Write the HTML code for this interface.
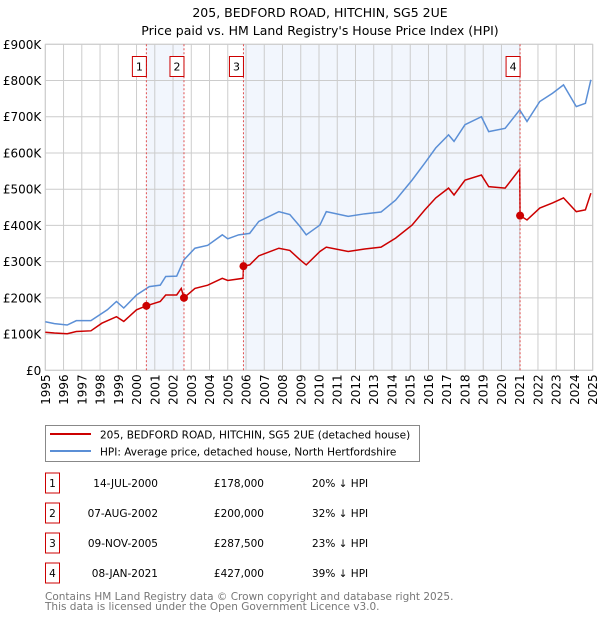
<!DOCTYPE html>
<html><head><meta charset="utf-8"><style>
body{margin:0;background:#fff;width:600px;height:620px;overflow:hidden;font-family:"DejaVu Sans","Liberation Sans",sans-serif}
svg text{font-family:"DejaVu Sans","Liberation Sans",sans-serif}
</style></head><body>
<svg id="chart" width="600" height="620" xmlns="http://www.w3.org/2000/svg">
<text x="320" y="17" text-anchor="middle" font-size="12.5">205, BEDFORD ROAD, HITCHIN, SG5 2UE</text>
<text x="320" y="35" text-anchor="middle" font-size="12.5">Price paid vs. HM Land Registry's House Price Index (HPI)</text>
<g id="shade"></g><g id="grid"></g><g id="axes"></g><g id="series"></g><g id="markers"></g>
<rect x="45.5" y="425.5" width="374" height="36" fill="#fff" stroke="#888"/>
<line x1="50" y1="434" x2="91" y2="434" stroke="#cc0000" stroke-width="2"/>
<text x="100" y="438.5" font-size="10.5">205, BEDFORD ROAD, HITCHIN, SG5 2UE (detached house)</text>
<line x1="50" y1="451" x2="91" y2="451" stroke="#5b8fd6" stroke-width="2"/>
<text x="100" y="455.5" font-size="10.5">HPI: Average price, detached house, North Hertfordshire</text>
<g id="table" font-size="10.5"></g>
<text x="45" y="600" font-size="10.5" fill="#777">Contains HM Land Registry data © Crown copyright and database right 2025.</text>
<text x="45" y="610" font-size="10.5" fill="#777">This data is licensed under the Open Government Licence v3.0.</text>
</svg>
<script>
const hpiYears=[1995,1995.5,1996.2,1996.7,1997.5,1998.4,1998.9,1999.3,2000,2000.7,2001.3,2001.6,2002.2,2002.6,2003.2,2003.9,2004.7,2005,2005.6,2006.2,2006.7,2007.8,2008.4,2008.96,2009.3,2010.05,2010.4,2011.6,2012.5,2013.4,2014.2,2015.1,2015.8,2016.4,2017.1,2017.4,2018.0,2018.9,2019.3,2020.2,2021.0,2021.4,2022.1,2022.8,2023.4,2024.1,2024.6,2024.9];
const hpiValues=[134,129,125,137,137,167,190,172,208,231,235,259,260,305,337,345,374,363,374,378,411,438,430,397,374,401,438,425,432,437,470,525,572,614,650,632,678,700,659,668,719,687,742,765,788,728,737,802];
const ppYears=[1995,1995.5,1996.2,1996.7,1997.5,1998.1,1998.9,1999.3,2000,2000.54,2001.3,2001.6,2002.2,2002.45,2002.6,2003.2,2003.9,2004.7,2005,2005.84,2005.86,2006.2,2006.7,2007.8,2008.4,2008.96,2009.3,2010.05,2010.4,2011.6,2012.5,2013.4,2014.2,2015.1,2015.8,2016.4,2017.1,2017.4,2018.0,2018.9,2019.3,2020.2,2021.0,2021.02,2021.4,2022.1,2022.8,2023.4,2024.1,2024.6,2024.9];
const ppValues=[105,103,101,107,109,130,148,135,167,178,190,208,208,226,200,226,235,254,248,254,287.5,291,316,337,331,305,291,328,340,328,335,340,365,401,443,476,503,484,525,539,507,503,555,427,415,448,462,476,438,443,489];
const saleLabels=["1","2","3","4"];
const saleYears=[2000.54,2002.6,2005.86,2021.02];
const saleValues=[178,200,287.5,427];
const saleDates=["14-JUL-2000","07-AUG-2002","09-NOV-2005","08-JAN-2021"];
const salePrices=["£178,000","£200,000","£287,500","£427,000"];
const salePct=["20% ↓ HPI","32% ↓ HPI","23% ↓ HPI","39% ↓ HPI"];
const yTicks=[0,100,200,300,400,500,600,700,800,900];
const yTickLabels=["£0","£100K","£200K","£300K","£400K","£500K","£600K","£700K","£800K","£900K"];
const xTicks=[1995,1996,1997,1998,1999,2000,2001,2002,2003,2004,2005,2006,2007,2008,2009,2010,2011,2012,2013,2014,2015,2016,2017,2018,2019,2020,2021,2022,2023,2024,2025];

const NS="http://www.w3.org/2000/svg";
const X0=45.3,X1=592.7,Y0=370.3,Y1=44.3;
const xs=y=>X0+(y-1995)/30*(X1-X0);
const ys=v=>Y0-(v/900)*(Y0-Y1);
function mk(tag,attrs,parent){const e=document.createElementNS(NS,tag);for(const k in attrs)e.setAttribute(k,attrs[k]);document.getElementById(parent).appendChild(e);return e;}

for(let i=0;i<2;i++){
  const a=saleYears[i*2],b=saleYears[i*2+1];
  const r=mk('rect',{x:xs(a),y:Y1,width:xs(b)-xs(a),height:Y0-Y1,fill:'#f2f6fd'},'shade');
  
  
}
xTicks.forEach(t=>{
  const l=mk('line',{x1:xs(t),x2:xs(t),y1:Y1,y2:Y0,stroke:'#ccc','stroke-width':1},'grid');
  
  
  const tx=mk('text',{x:0,y:0,'font-size':12,'text-anchor':'end',transform:`translate(${xs(t)+4.5},${Y0+4}) rotate(-90)`},'axes');
  tx.textContent=t;
  
  
});
yTicks.forEach((t,i)=>{
  const l=mk('line',{x1:X0,x2:X1,y1:ys(t),y2:ys(t),stroke:'#ccc','stroke-width':1},'grid');
  
  
  const tx=mk('text',{x:X0-4,y:ys(t)+4.5,'font-size':12,'text-anchor':'end'},'axes');
  tx.textContent=yTickLabels[i];
  
  
});
const hp=mk('polyline',{points:hpiYears.map((y,i)=>xs(y)+','+ys(hpiValues[i])).join(' '),fill:'none',stroke:'#5b8fd6','stroke-width':1.5},'series');


const pp=mk('polyline',{points:ppYears.map((y,i)=>xs(y)+','+ys(ppValues[i])).join(' '),fill:'none',stroke:'#cc0000','stroke-width':1.5},'series');


saleYears.forEach((y,i)=>{
  const l=mk('line',{x1:xs(y),x2:xs(y),y1:Y1,y2:Y0,stroke:'#e05050','stroke-width':1,'stroke-dasharray':'2,2'},'markers');
  
  
  const c=mk('circle',{cx:xs(y),cy:ys(saleValues[i]),r:4,fill:'#cc0000'},'markers');
  
  
  const b=mk('rect',{x:xs(y)-14,y:56.5,width:14,height:20,fill:'#fff',stroke:'#cc0000'},'markers');
  
  
  const t=mk('text',{x:xs(y)-7,y:70.5,'font-size':11,'text-anchor':'middle'},'markers');
  t.textContent=saleLabels[i];
  
  
  const cy=483+i*30;
  const tb=mk('rect',{x:45.5,y:cy-10,width:14,height:20,fill:'#fff',stroke:'#cc0000'},'table');
  
  
  const tn=mk('text',{x:52.5,y:cy+4,'text-anchor':'middle'},'table');
  tn.textContent=saleLabels[i];
  
  
  const td=mk('text',{x:158,y:cy+4,'text-anchor':'end'},'table');
  td.textContent=saleDates[i];
  
  
  const tp=mk('text',{x:264,y:cy+4,'text-anchor':'end'},'table');
  tp.textContent=salePrices[i];
  
  
  const tc=mk('text',{x:312,y:cy+4},'table');
  tc.textContent=salePct[i];
  
  
});
const frame=mk('rect',{x:X0,y:Y1,width:X1-X0,height:Y0-Y1,fill:'none',stroke:'#ccc'},'axes');


</script>
</body></html>
